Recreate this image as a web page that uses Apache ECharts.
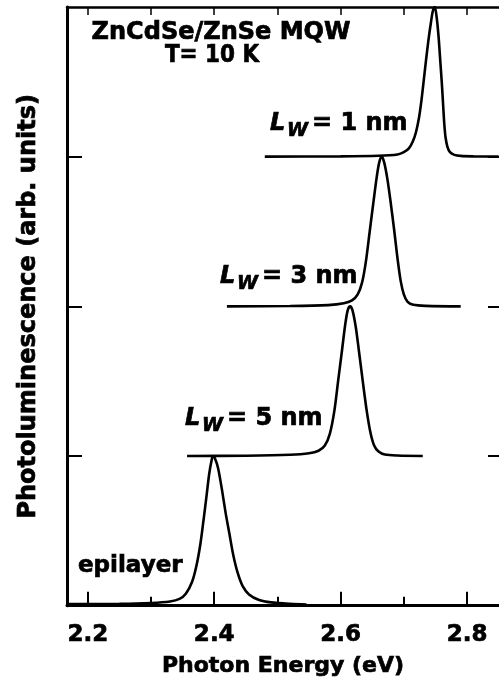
<!DOCTYPE html>
<html>
<head>
<meta charset="utf-8">
<script src="https://cdn.jsdelivr.net/npm/echarts@6/dist/echarts.min.js"></script>
<style>
  html, body { margin: 0; padding: 0; background: #fff; }
  #main { width: 499px; height: 683px; }
</style>
</head>
<body>
<div id="main"></div>
<script>
// photon energy (eV) and normalised PL intensity
const energyEpi = [2.170, 2.250, 2.300, 2.330, 2.345, 2.355, 2.365, 2.372, 2.378, 2.383, 2.388, 2.392, 2.396, 2.398, 2.401, 2.406, 2.412, 2.418, 2.424, 2.430, 2.437, 2.445, 2.455, 2.470, 2.490, 2.520, 2.546];
const plEpi = [0.010, 0.012, 0.018, 0.028, 0.045, 0.080, 0.160, 0.270, 0.410, 0.570, 0.740, 0.880, 0.975, 1.000, 0.985, 0.920, 0.780, 0.620, 0.480, 0.340, 0.220, 0.130, 0.075, 0.040, 0.022, 0.012, 0.008];

const energy5 = [2.357, 2.450, 2.520, 2.550, 2.565, 2.575, 2.583, 2.590, 2.596, 2.602, 2.607, 2.611, 2.615, 2.619, 2.624, 2.629, 2.635, 2.641, 2.647, 2.653, 2.660, 2.670, 2.690, 2.730];
const pl5 = [0.000, 0.002, 0.008, 0.018, 0.035, 0.070, 0.150, 0.300, 0.500, 0.700, 0.870, 0.970, 1.000, 0.970, 0.860, 0.700, 0.500, 0.310, 0.160, 0.070, 0.030, 0.010, 0.003, 0.000];

const energy3 = [2.420, 2.520, 2.580, 2.605, 2.618, 2.627, 2.634, 2.640, 2.646, 2.652, 2.657, 2.661, 2.665, 2.669, 2.674, 2.679, 2.685, 2.690, 2.695, 2.700, 2.706, 2.715, 2.735, 2.790];
const pl3 = [0.000, 0.002, 0.008, 0.020, 0.040, 0.080, 0.160, 0.300, 0.500, 0.700, 0.860, 0.960, 1.000, 0.960, 0.850, 0.700, 0.500, 0.320, 0.170, 0.080, 0.030, 0.010, 0.003, 0.000];

const energy1 = [2.480, 2.600, 2.660, 2.690, 2.700, 2.708, 2.714, 2.719, 2.724, 2.728, 2.731, 2.735, 2.739, 2.743, 2.746, 2.749, 2.752, 2.755, 2.758, 2.760, 2.762, 2.764, 2.766, 2.769, 2.773, 2.780, 2.790, 2.810, 2.850];
const pl1 = [0.000, 0.002, 0.006, 0.015, 0.030, 0.055, 0.100, 0.160, 0.260, 0.380, 0.490, 0.640, 0.780, 0.900, 0.975, 1.000, 0.930, 0.800, 0.620, 0.500, 0.360, 0.220, 0.130, 0.065, 0.030, 0.012, 0.005, 0.002, 0.000];

// vertical offsets of the stacked spectra
const offsets = [0, 1, 2, 3];
const wellWidths = ['5', '3', '1'];

const majorTicks = [2.2, 2.4, 2.6, 2.8];
const minorTicks = [2.3, 2.5, 2.7];
const topTicks = [2.2, 2.3, 2.4, 2.5, 2.6, 2.7, 2.8];
const yTicks = [1, 2, 3];

const xMin = 2.167, xMax = 2.8506;
const FONT = '"DejaVu Sans", "Liberation Sans", Arial, sans-serif';

let myChart = echarts.init(document.getElementById('main'));

function pairs(xs, ys, off) {
    return xs.map((x, i) => [x, ys[i] + off]);
}

const curves = [
    pairs(energyEpi, plEpi, offsets[0]),
    pairs(energy5, pl5, offsets[1]),
    pairs(energy3, pl3, offsets[2]),
    pairs(energy1, pl1, offsets[3]),
];

function txt(text, x, y, size, opts) {
    opts = opts || {};
    return {
        type: 'text',
        x: x, y: y,
        scaleX: opts.scaleX || 1,
        style: {
            text: text,
            fill: '#000',
            stroke: '#000',
            lineWidth: 0.7,
            font: (opts.italic ? 'italic ' : '') + 'bold ' + size + 'px ' + FONT,
            align: opts.align || 'left',
            verticalAlign: 'middle',
            textAlign: opts.align || 'left',
            textVerticalAlign: 'middle'
        }
    };
}

// heavier text like the scanned original
const boldText = { color: '#000', fontWeight: 'bold', fontFamily: FONT, textBorderColor: '#000', textBorderWidth: 0.7 };

// L_W = n nm labels: [left x, cap-centre y]
const lwPos = [[185, 419], [220, 277], [270, 124]];
let graphics = [
    txt('ZnCdSe/ZnSe MQW', 221, 33, 24, { align: 'center' }),
    txt('T= 10 K', 212, 55, 25, { align: 'center', scaleX: 0.86 }),
    txt('epilayer', 78, 566, 23),
];
lwPos.forEach((p, i) => {
    graphics.push(txt('L', p[0], p[1], 24, { italic: true }));
    graphics.push(txt('W', p[0] + 17, p[1] + 7, 19, { italic: true }));
    graphics.push(txt('= ' + wellWidths[i] + ' nm', p[0] + 42, p[1], 24));
});

let option = {
    backgroundColor: '#fff',
    animation: false,
    grid: { left: 67, top: 7, right: -1, bottom: 76, containLabel: false },
    xAxis: [
        {
            type: 'value', min: xMin, max: xMax, position: 'bottom',
            axisLine: { onZero: false, lineStyle: { color: '#000', width: 3 } },
            axisTick: { inside: true, length: 14, customValues: majorTicks, lineStyle: { color: '#000', width: 2 } },
            axisLabel: Object.assign({
                customValues: majorTicks,
                formatter: v => v.toFixed(1),
                fontSize: 23, margin: 18
            }, boldText),
            splitLine: { show: false },
            name: 'Photon Energy (eV)',
            nameLocation: 'middle',
            nameGap: 50,
            nameTextStyle: Object.assign({ fontSize: 22 }, boldText)
        },
        {
            type: 'value', min: xMin, max: xMax, position: 'bottom',
            axisLine: { show: false, onZero: false },
            axisTick: { inside: true, length: 9, customValues: minorTicks, lineStyle: { color: '#000', width: 2 } },
            axisLabel: { show: false },
            splitLine: { show: false }
        },
        {
            type: 'value', min: xMin, max: xMax, position: 'top',
            axisLine: { onZero: false, lineStyle: { color: '#000', width: 2.5 } },
            axisTick: { inside: true, length: 8, customValues: topTicks, lineStyle: { color: '#000', width: 1.5 } },
            axisLabel: { show: false },
            splitLine: { show: false }
        }
    ],
    yAxis: [
        {
            type: 'value', min: 0, max: 4, position: 'left',
            axisLine: { show: true, onZero: false, lineStyle: { color: '#000', width: 3 } },
            axisTick: { show: true, inside: true, length: 15, customValues: yTicks, lineStyle: { color: '#000', width: 2 } },
            axisLabel: { show: false },
            splitLine: { show: false },
            name: 'Photoluminescence (arb. units)',
            nameLocation: 'middle',
            nameGap: 26,
            nameTextStyle: Object.assign({ fontSize: 24 }, boldText)
        },
        {
            type: 'value', min: 0, max: 4, position: 'right',
            axisLine: { show: false, onZero: false },
            axisTick: { show: true, inside: true, length: 11, customValues: yTicks, lineStyle: { color: '#000', width: 2 } },
            axisLabel: { show: false },
            splitLine: { show: false }
        }
    ],
    graphic: graphics,
    series: curves.map(d => ({
        type: 'line',
        xAxisIndex: 0,
        yAxisIndex: 0,
        data: d,
        symbol: 'none',
        smooth: 0.3,
        lineStyle: { color: '#000', width: 2.6 }
    }))
};

myChart.setOption(option);
window.onresize = function () {
    myChart.resize();
};
</script>
</body>
</html>
